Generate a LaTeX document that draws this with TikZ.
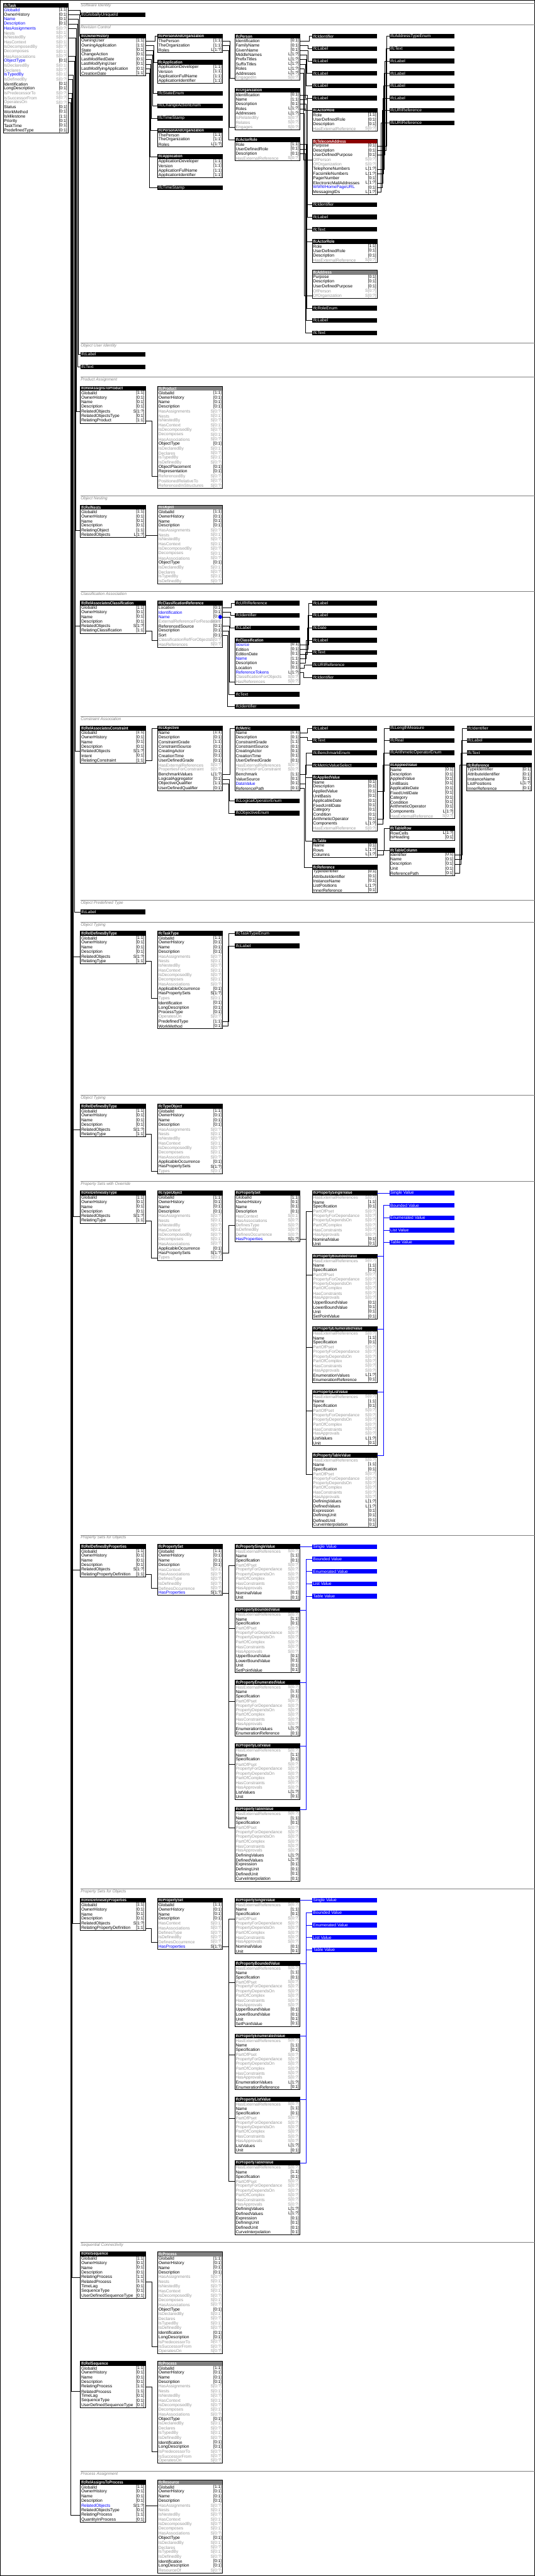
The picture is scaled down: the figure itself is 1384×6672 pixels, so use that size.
\documentclass[tikz,border=0pt]{standalone}
\usepackage{fontspec}
\setmainfont{Liberation Sans}
\newfontfamily\headfont[FakeStretch=0.85]{Liberation Sans}
\definecolor{labK}{RGB}{0,0,0}\definecolor{cardK}{RGB}{0,0,0}
\definecolor{labB}{RGB}{0,0,255}\definecolor{cardB}{RGB}{0,0,0}
\definecolor{labH}{RGB}{0,0,255}\definecolor{cardH}{RGB}{150,150,150}
\definecolor{labG}{RGB}{150,150,150}\definecolor{cardG}{RGB}{150,150,150}
\definecolor{abstr}{RGB}{128,128,128}
\definecolor{selred}{RGB}{139,0,0}
\definecolor{sepgray}{RGB}{128,128,128}
\tikzset{
  headbox/.style={anchor=north west,minimum width=168pt,minimum height=12pt,inner sep=0pt,outer sep=0pt,fill=black},
  headtxt/.style={anchor=west,inner xsep=2pt,inner ysep=0pt,text=white,font=\headfont\bfseries\fontsize{11}{12}\selectfont},
  bartxt/.style={headtxt,font=\fontsize{11}{12}\selectfont},
  rowbox/.style={anchor=north west,minimum width=168pt,minimum height=12pt,inner sep=0pt,outer sep=0pt},
  rowtxt/.style={anchor=west,inner xsep=2pt,inner ysep=0pt,font=\fontsize{11}{12}\selectfont},
  cardtxt/.style={rowtxt,anchor=east},
  box/.style={draw=black,line width=1pt},
  wire/.style={draw=black,line width=1pt},
  bwire/.style={draw=blue,line width=1pt},
  sepline/.style={draw=sepgray,line width=1pt},
  seplabel/.style={anchor=north west,inner sep=1pt,text=sepgray,font=\itshape\fontsize{10.5}{12}\selectfont}
}
\def\rootrows{GlobalId/[1:1]/K,OwnerHistory/[0:1]/K,Name/[0:1]/K,Description/[0:1]/K}
\def\objdefrows{HasAssignments/S[0:?]/G,Nests/S[0:1]/G,IsNestedBy/S[0:?]/G,HasContext/S[0:1]/G,IsDecomposedBy/S[0:?]/G,Decomposes/S[0:1]/G,HasAssociations/S[0:?]/G}
\def\objrows{ObjectType/[0:1]/K,IsDeclaredBy/S[0:1]/G,Declares/S[0:?]/G,IsTypedBy/S[0:1]/G,IsDefinedBy/S[0:?]/G}
\def\procrows{\rootrows,\objdefrows,\objrows,Identification/[0:1]/K,LongDescription/[0:1]/K,IsPredecessorTo/S[0:?]/G,IsSuccessorFrom/S[0:?]/G,OperatesOn/S[0:?]/G}
\def\typerows{\rootrows,\objdefrows,ApplicableOccurrence/[0:1]/K,HasPropertySets/S[1:?]/K,Types/S[0:1]/G}
\def\psetrows{\rootrows,HasContext/S[0:1]/G,HasAssociations/S[0:?]/G,DefinesType/S[0:?]/G,IsDefinedBy/S[0:?]/G,DefinesOccurrence/S[0:?]/G,HasProperties/S[1:?]/B}
\def\proprows{HasExternalReferences/S[0:?]/G,Name/[1:1]/K,Specification/[0:1]/K,PartOfPset/S[0:?]/G,PropertyForDependance/S[0:?]/G,PropertyDependsOn/S[0:?]/G,PartOfComplex/S[0:?]/G,HasConstraints/S[0:?]/G,HasApprovals/S[0:?]/G}
\def\seqrows{\rootrows,RelatingProcess/[1:1]/K,RelatedProcess/[1:1]/K,TimeLag/[0:1]/K,SequenceType/[0:1]/K,UserDefinedSequenceType/[0:1]/K}
\def\porows{ThePerson/[1:1]/K,TheOrganization/[1:1]/K,Roles/L[1:?]/K}
\def\approws{ApplicationDeveloper/[1:1]/K,Version/[1:1]/K,ApplicationFullName/[1:1]/K,ApplicationIdentifier/[1:1]/K}
\def\rolerows{Role/[1:1]/K,UserDefinedRole/[0:1]/K,Description/[0:1]/K,HasExternalReference/S[0:?]/G}
\def\conrows{Name/[1:1]/K,Description/[0:1]/K,ConstraintGrade/[1:1]/K,ConstraintSource/[0:1]/K,CreatingActor/[0:1]/K,CreationTime/[0:1]/K,UserDefinedGrade/[0:1]/K,HasExternalReferences/S[0:?]/G,PropertiesForConstraint/S[0:?]/G}
\def\avrows{Name/[0:1]/K,Description/[0:1]/K,AppliedValue/[0:1]/K,UnitBasis/[0:1]/K,ApplicableDate/[0:1]/K,FixedUntilDate/[0:1]/K,Category/[0:1]/K,Condition/[0:1]/K,ArithmeticOperator/[0:1]/K,Components/L[1:?]/K,HasExternalReference/S[0:?]/G}
\def\refrows{TypeIdentifier/[0:1]/K,AttributeIdentifier/[0:1]/K,InstanceName/[0:1]/K,ListPositions/L[1:?]/K,InnerReference/[0:1]/K}
% entity box: [header colour]{name}{top left}{title}{rows}
\newcommand{\entity}[5][black]{%
  \node[headbox,fill=#1] (#2) at #3 {};
  \node[headtxt] at (#2.west) {#4};
  \edef\rowlist{#5}%
  \foreach \lab/\card/\cl [count=\i] in \rowlist {%
    \path (#2.south west) ++(0,{12*(\i-1)}) node[rowbox] (#2-\i) {};
    \node[rowtxt,text=lab\cl] at (#2-\i.west) {\lab};
    \node[cardtxt,text=card\cl] at (#2-\i.east) {\card};
    \xdef\lastrow{\i}%
  }
  \draw[box] (#2.north west) rectangle (#2-\lastrow.south east);
}
\newcommand{\typebar}[4][black]{%
  \node[headbox,fill=#1] (#2) at #3 {};
  \node[bartxt] at (#2.west) {#4};
}
\newcommand{\link}[3]{\draw[wire] (#1.east) -- (#1.east -| #2,0) |- (#3.west);}
\newcommand{\grp}[3]{%
  \draw[sepline] (208,#2) -- (1384,#2);
  \node[seplabel] (#1) at (208,#2+1) {#3};
}
% property stack: prefix, x, y, pset row, via x
\newcommand{\propstack}[5]{%
  \entity{#1sv}{(#2,#3)}{IfcPropertySingleValue}{\proprows,NominalValue/[0:1]/K,Unit/[0:1]/K}
  \entity{#1bv}{(#2,#3+164)}{IfcPropertyBoundedValue}{\proprows,UpperBoundValue/[0:1]/K,LowerBoundValue/[0:1]/K,Unit/[0:1]/K,SetPointValue/[0:1]/K}
  \entity{#1ev}{(#2,#3+352)}{IfcPropertyEnumeratedValue}{\proprows,EnumerationValues/L[1:?]/K,EnumerationReference/[0:1]/K}
  \entity{#1lv}{(#2,#3+516)}{IfcPropertyListValue}{\proprows,ListValues/L[1:?]/K,Unit/[0:1]/K}
  \entity{#1tv}{(#2,#3+680)}{IfcPropertyTableValue}{\proprows,DefiningValues/L[1:?]/K,DefinedValues/L[1:?]/K,Expression/[0:1]/K,DefiningUnit/[0:1]/K,DefinedUnit/[0:1]/K,CurveInterpolation/[0:1]/K}
  \link{#4}{#5}{#1sv-4}\link{#4}{#5}{#1bv-4}\link{#4}{#5}{#1ev-4}\link{#4}{#5}{#1lv-4}\link{#4}{#5}{#1tv-4}
  \typebar[blue]{#1b1}{(#2+200,#3)}{Single Value}
  \typebar[blue]{#1b2}{(#2+200,#3+32)}{Bounded Value}
  \typebar[blue]{#1b3}{(#2+200,#3+64)}{Enumerated Value}
  \typebar[blue]{#1b4}{(#2+200,#3+96)}{List Value}
  \typebar[blue]{#1b5}{(#2+200,#3+128)}{Table Value}
  \draw[bwire] (#1sv.east) -- (#1b1.west);
  \draw[bwire] (#1tv.east) -| (#2+184,#3+38) -- (#1b2.west);
  \draw[bwire] (#1bv.east) -- (#2+184,#3+170);
  \draw[bwire] (#1ev.east) -- (#2+184,#3+358);
  \draw[bwire] (#1lv.east) -- (#2+184,#3+522);
  \draw[bwire] (#2+184,#3+70) -- (#1b3.west);
  \draw[bwire] (#2+184,#3+102) -- (#1b4.west);
  \draw[bwire] (#2+184,#3+134) -- (#1b5.west);
}
\begin{document}
\begin{tikzpicture}[x=1pt,y=-1pt]
\useasboundingbox (0,0) rectangle (1384,6672);
\draw[line width=1.5pt] (0.75,0.75) rectangle (1383.25,6670.5);
\entity{task}{(8,8)}{IfcTask}{GlobalId/[1:1]/B,OwnerHistory/[0:1]/K,Name/[0:1]/B,Description/[0:1]/B,HasAssignments/S[0:?]/H,Nests/S[0:1]/G,IsNestedBy/S[0:?]/G,HasContext/S[0:1]/G,IsDecomposedBy/S[0:?]/G,Decomposes/S[0:1]/G,HasAssociations/S[0:?]/G,ObjectType/[0:1]/B,IsDeclaredBy/S[0:1]/G,Declares/S[0:?]/G,IsTypedBy/S[0:1]/H,IsDefinedBy/S[0:?]/G,Identification/[0:1]/K,LongDescription/[0:1]/K,IsPredecessorTo/S[0:?]/G,IsSuccessorFrom/S[0:?]/G,OperatesOn/S[0:?]/G,Status/[0:1]/K,WorkMethod/[0:1]/K,IsMilestone/[1:1]/K,Priority/[0:1]/K,TaskTime/[0:1]/K,PredefinedType/[0:1]/K}

\grp{s1}{8}{Software Identity}
\typebar{gid}{(208,32)}{IfcGloballyUniqueId}
\link{task-1}{206.7}{gid}

\grp{s2}{64}{Revision Control}
\entity{oh}{(208,88)}{IfcOwnerHistory}{OwningUser/[1:1]/K,OwningApplication/[1:1]/K,State/[0:1]/K,ChangeAction/[0:1]/K,LastModifiedDate/[0:1]/K,LastModifyingUser/[0:1]/K,LastModifyingApplication/[0:1]/K,CreationDate/[1:1]/K}
\entity{pao1}{(408,88)}{IfcPersonAndOrganization}{\porows}
\entity{app1}{(408,156)}{IfcApplication}{\approws}
\typebar{state}{(408,236)}{IfcStateEnum}
\typebar{chg}{(408,268)}{IfcChangeActionEnum}
\typebar{ts1}{(408,300)}{IfcTimeStamp}
\entity{pao2}{(408,332)}{IfcPersonAndOrganization}{\porows}
\entity{app2}{(408,400)}{IfcApplication}{\approws}
\typebar{ts2}{(408,480)}{IfcTimeStamp}
\entity{pers}{(608,88)}{IfcPerson}{Identification/[0:1]/K,FamilyName/[0:1]/K,GivenName/[0:1]/K,MiddleNames/L[1:?]/K,PrefixTitles/L[1:?]/K,SuffixTitles/L[1:?]/K,Roles/L[1:?]/K,Addresses/L[1:?]/K,EngagedIn/S[0:?]/G}
\entity{org}{(608,228)}{IfcOrganization}{Identification/[0:1]/K,Name/[1:1]/K,Description/[0:1]/K,Roles/L[1:?]/K,Addresses/L[1:?]/K,IsRelatedBy/S[0:?]/G,Relates/S[0:?]/G,Engages/S[0:?]/G}
\entity{role1}{(608,356)}{IfcActorRole}{\rolerows}
\typebar{pid}{(808,88)}{IfcIdentifier}
\typebar{pl1}{(808,120)}{IfcLabel}
\typebar{pl2}{(808,152)}{IfcLabel}
\typebar{pl3}{(808,184)}{IfcLabel}
\typebar{pl4}{(808,216)}{IfcLabel}
\typebar{pl5}{(808,248)}{IfcLabel}
\entity{role2}{(808,280)}{IfcActorRole}{\rolerows}
\entity[selred]{tel}{(808,360)}{IfcTelecomAddress}{Purpose/[0:1]/K,Description/[0:1]/K,UserDefinedPurpose/[0:1]/K,OfPerson/S[0:?]/G,OfOrganization/S[0:?]/G,TelephoneNumbers/L[1:?]/K,FacsimileNumbers/L[1:?]/K,PagerNumber/[0:1]/K,ElectronicMailAddresses/L[1:?]/K,WWWHomePageURL/[0:1]/B,MessagingIDs/L[1:?]/K}
\typebar{oid}{(808,524)}{IfcIdentifier}
\typebar{olab}{(808,556)}{IfcLabel}
\typebar{otxt}{(808,588)}{IfcText}
\entity{role3}{(808,620)}{IfcActorRole}{\rolerows}
\entity[abstr]{addr}{(808,700)}{IfcAddress}{Purpose/[0:1]/K,Description/[0:1]/K,UserDefinedPurpose/[0:1]/K,OfPerson/S[0:?]/G,OfOrganization/S[0:?]/G}
\typebar{renum}{(808,792)}{IfcRoleEnum}
\typebar{rlab}{(808,824)}{IfcLabel}
\typebar{rtxt}{(808,856)}{IfcText}
\typebar{atype}{(1008,88)}{IfcAddressTypeEnum}
\typebar{ttxt}{(1008,120)}{IfcText}
\typebar{tl1}{(1008,152)}{IfcLabel}
\typebar{tl2}{(1008,184)}{IfcLabel}
\typebar{tl3}{(1008,216)}{IfcLabel}
\typebar{tl4}{(1008,248)}{IfcLabel}
\typebar{uri1}{(1008,280)}{IfcURIReference}
\typebar{uri2}{(1008,312)}{IfcURIReference}
\link{task-2}{205}{oh}
\link{oh-1}{401}{pao1}
\link{oh-2}{398}{app1}
\link{oh-3}{396}{state}
\link{oh-4}{394}{chg}
\link{oh-5}{392}{ts1}
\link{oh-6}{390}{pao2}
\link{oh-7}{388.5}{app2}
\link{oh-8}{386.8}{ts2}
\link{pao1-1}{594.6}{pers-9}
\link{pao1-2}{592.9}{org-8}
\link{pao1-3}{591}{role1}
\link{pers-1}{800}{pid}
\link{pers-2}{797.5}{pl1}
\link{pers-3}{796.4}{pl2}
\link{pers-4}{794.3}{pl3}
\link{pers-5}{792.1}{pl4}
\link{pers-6}{790.4}{pl5}
\link{pers-7}{788}{role2}
\link{pers-8}{786.4}{tel-4}
\link{org-1}{796}{oid}
\link{org-2}{794.6}{olab}
\link{org-3}{792.9}{otxt}
\link{org-4}{791.8}{role3}
\link{org-5}{788}{addr-5}
\link{role1-1}{793.9}{renum}
\link{role1-2}{792.1}{rlab}
\link{role1-3}{790.4}{rtxt}
\link{tel-1}{1000.4}{atype}
\link{tel-2}{998.5}{ttxt}
\link{tel-3}{996.3}{tl1}
\link{tel-6}{994.4}{tl2}
\link{tel-7}{992.5}{tl3}
\link{tel-9}{990.7}{tl4}
\link{tel-10}{988.6}{uri1}
\link{tel-11}{986.4}{uri2}

\grp{s3}{888}{Object User Identity}
\typebar{nlab}{(208,912)}{IfcLabel}
\typebar{dtxt}{(208,944)}{IfcText}
\link{task-3}{202.3}{nlab}
\link{task-4}{201}{dtxt}

\grp{s4}{976}{Product Assignment}
\entity{rap}{(208,1000)}{IfcRelAssignsToProduct}{\rootrows,RelatedObjects/S[1:?]/K,RelatedObjectsType/[0:1]/K,RelatingProduct/[1:1]/K}
\entity[abstr]{prod}{(408,1000)}{IfcProduct}{\rootrows,\objdefrows,\objrows,ObjectPlacement/[0:1]/K,Representation/[0:1]/K,ReferencedBy/S[0:?]/G,PositionedRelativeTo/S[0:?]/G,ReferencedInStructures/S[0:?]/G}
\link{rap-7}{393}{prod-19}
\link{task-5}{198.3}{rap-5}

\grp{s5}{1284}{Object Nesting}
\entity{nest}{(208,1308)}{IfcRelNests}{\rootrows,RelatingObject/[1:1]/K,RelatedObjects/L[1:?]/K}
\entity[abstr]{obj}{(408,1308)}{IfcObject}{\rootrows,\objdefrows,\objrows}
\draw[wire] (nest-6.east) -- (obj-6.west);
\link{task-7}{196}{nest-5}

\grp{s6}{1532}{Classification Association}
\entity{rac}{(208,1556)}{IfcRelAssociatesClassification}{\rootrows,RelatedObjects/S[1:?]/K,RelatingClassification/[1:1]/K}
\entity{cref}{(408,1556)}{IfcClassificationReference}{Location/[0:1]/K,Identification/[0:1]/B,Name/[0:1]/B,ExternalReferenceForResources/S[0:?]/G,ReferencedSource/[0:1]/K,Description/[0:1]/K,Sort/[0:1]/K,ClassificationRefForObjects/S[0:?]/G,HasReferences/S[0:?]/G}
\fill[blue] (570,1598) circle[radius=5pt];
\typebar{curi}{(608,1556)}{IfcURIReference}
\typebar{cid}{(608,1588)}{IfcIdentifier}
\typebar{clab}{(608,1620)}{IfcLabel}
\entity{cls}{(608,1652)}{IfcClassification}{Source/[0:1]/B,Edition/[0:1]/K,EditionDate/[0:1]/K,Name/[1:1]/B,Description/[0:1]/K,Location/[0:1]/K,ReferenceTokens/L[1:?]/B,ClassificationForObjects/S[0:?]/G,HasReferences/S[0:?]/G}
\typebar{ctxt}{(608,1792)}{IfcText}
\typebar{cid2}{(608,1824)}{IfcIdentifier}
\typebar{sl1}{(808,1556)}{IfcLabel}
\typebar{sl2}{(808,1588)}{IfcLabel}
\typebar{sdate}{(808,1620)}{IfcDate}
\typebar{sl3}{(808,1652)}{IfcLabel}
\typebar{stxt}{(808,1684)}{IfcText}
\typebar{suri}{(808,1716)}{IfcURIReference}
\typebar{sid}{(808,1748)}{IfcIdentifier}
\link{task-11}{194.3}{rac-5}
\link{rac-6}{393}{cref-8}
\link{cref-1}{598}{curi}
\link{cref-2}{596.4}{cid}
\link{cref-3}{594.6}{clab}
\link{cref-5}{592.9}{cls-9}
\link{cref-6}{591}{ctxt}
\link{cref-7}{588.6}{cid2}
\link{cls-1}{799.3}{sl1}
\link{cls-2}{797}{sl2}
\link{cls-3}{794.6}{sdate}
\link{cls-4}{792.9}{sl3}
\link{cls-5}{790.4}{stxt}
\link{cls-6}{788}{suri}
\link{cls-7}{786.4}{sid}

\grp{s7}{1856}{Constraint Association}
\entity{racn}{(208,1880)}{IfcRelAssociatesConstraint}{\rootrows,RelatedObjects/S[1:?]/K,Intent/[0:1]/K,RelatingConstraint/[1:1]/K}
\entity{objv}{(408,1880)}{IfcObjective}{\conrows,BenchmarkValues/L[1:?]/K,LogicalAggregator/[0:1]/K,ObjectiveQualifier/[1:1]/K,UserDefinedQualifier/[0:1]/K}
\entity{metric}{(608,1880)}{IfcMetric}{\conrows,Benchmark/[1:1]/K,ValueSource/[0:1]/K,DataValue/[0:1]/B,ReferencePath/[0:1]/K}
\typebar{lop}{(608,2068)}{IfcLogicalOperatorEnum}
\typebar{oenum}{(608,2100)}{IfcObjectiveEnum}
\typebar{mlab}{(808,1880)}{IfcLabel}
\typebar{mtxt}{(808,1912)}{IfcText}
\typebar{bench}{(808,1944)}{IfcBenchmarkEnum}
\typebar{mvs}{(808,1976)}{IfcMetricValueSelect}
\entity{av1}{(808,2008)}{IfcAppliedValue}{\avrows}
\entity{tab}{(808,2172)}{IfcTable}{Name/[0:1]/K,Rows/L[1:?]/K,Columns/L[1:?]/K}
\entity{ref1}{(808,2240)}{IfcReference}{\refrows}
\typebar{lmeas}{(1008,1880)}{IfcLengthMeasure}
\typebar{real}{(1008,1912)}{IfcReal}
\typebar{arith}{(1008,1944)}{IfcArithmeticOperatorEnum}
\entity{av2}{(1008,1976)}{IfcAppliedValue}{\avrows}
\entity{trow}{(1008,2140)}{IfcTableRow}{RowCells/L[1:?]/K,IsHeading/[0:1]/K}
\entity{tcol}{(1008,2196)}{IfcTableColumn}{Identifier/[0:1]/K,Name/[0:1]/K,Description/[0:1]/K,Unit/[0:1]/K,ReferencePath/[0:1]/K}
\typebar{cidf}{(1208,1880)}{IfcIdentifier}
\typebar{clab7}{(1208,1912)}{IfcLabel}
\typebar{ctxt7}{(1208,1944)}{IfcText}
\entity{ref2}{(1208,1976)}{IfcReference}{\refrows}
\link{task-11}{194.3}{racn-5}
\link{racn-7}{393}{objv}
\link{objv-10}{594.6}{metric}
\link{objv-11}{592.9}{lop}
\link{objv-12}{591}{oenum}
\link{metric-1}{796}{mlab}
\link{metric-2}{794.6}{mtxt}
\link{metric-10}{792}{bench}
\link{metric-12}{790}{mvs}
\link{metric-12}{790}{av1}
\link{metric-12}{790}{tab}
\link{metric-13}{787.5}{ref1}
\link{av1-3}{994.4}{lmeas}
\link{av1-3}{994.4}{real}
\link{av1-9}{992.5}{arith}
\link{av1-10}{990.3}{av2}
\link{tab-2}{994.4}{trow}
\link{tab-3}{992.5}{tcol}
\link{tcol-1}{1196.6}{cidf}
\link{tcol-2}{1194.8}{clab7}
\link{tcol-3}{1193}{ctxt7}
\link{tcol-5}{1190.3}{ref2}

\grp{s8}{2332}{Object Predefined Type}
\typebar{otype}{(208,2356)}{IfcLabel}
\link{task-12}{192.3}{otype}

\grp{s9}{2388}{Object Typing}
\entity{rdt0}{(208,2412)}{IfcRelDefinesByType}{\rootrows,RelatedObjects/S[1:?]/K,RelatingType/[1:1]/K}
\entity{ttype}{(408,2412)}{IfcTaskType}{\typerows,Identification/[0:1]/K,LongDescription/[0:1]/K,ProcessType/[0:1]/K,OperatesOn/S[0:?]/G,PredefinedType/[1:1]/K,WorkMethod/[0:1]/K}
\typebar{tenum}{(608,2412)}{IfcTaskTypeEnum}
\typebar{wlab}{(608,2444)}{IfcLabel}
\link{rdt0-6}{392}{ttype-14}
\link{ttype-19}{592}{tenum}
\link{ttype-20}{590}{wlab}
\link{task-15}{190}{rdt0-5}

\grp{s10}{2836}{Object Typing}
\entity{rdt1}{(208,2860)}{IfcRelDefinesByType}{\rootrows,RelatedObjects/S[1:?]/K,RelatingType/[1:1]/K}
\entity{typ1}{(408,2860)}{IfcTypeObject}{\typerows}
\link{rdt1-6}{392}{typ1-14}
\link{task-15}{190}{rdt1-5}

\grp{s11}{3060}{Property Sets with Override}
\entity{rdt2}{(208,3084)}{IfcRelDefinesByType}{\rootrows,RelatedObjects/S[1:?]/K,RelatingType/[1:1]/K}
\entity{typ2}{(408,3084)}{IfcTypeObject}{\typerows}
\entity{pset1}{(608,3084)}{IfcPropertySet}{\psetrows}
\link{rdt2-6}{392}{typ2-14}
\link{typ2-13}{592}{pset1-7}
\link{task-15}{190}{rdt2-5}
\propstack{pa}{808}{3084}{pset1-10}{792}

\grp{s12}{3976}{Property Sets for Objects}
\entity{rdp1}{(208,4000)}{IfcRelDefinesByProperties}{\rootrows,RelatedObjects/S[1:?]/K,RelatingPropertyDefinition/[1:1]/K}
\entity{pset2}{(408,4000)}{IfcPropertySet}{\psetrows}
\link{rdp1-6}{392}{pset2-9}
\link{task-16}{188.3}{rdp1-5}
\propstack{pb}{608}{4000}{pset2-10}{592}

\grp{s13}{4892}{Property Sets for Objects}
\entity{rdp2}{(208,4916)}{IfcRelDefinesByProperties}{\rootrows,RelatedObjects/S[1:?]/K,RelatingPropertyDefinition/[1:1]/K}
\entity{pset3}{(408,4916)}{IfcPropertySet}{\psetrows}
\link{rdp2-6}{392}{pset3-9}
\link{task-16}{188.3}{rdp2-5}
\propstack{pc}{608}{4916}{pset3-10}{592}

\grp{s14}{5808}{Sequential Connectivity}
\entity{seq1}{(208,5832)}{IfcRelSequence}{\seqrows}
\entity[abstr]{proc1}{(408,5832)}{IfcProcess}{\procrows}
\link{seq1-6}{393}{proc1-20}
\link{task-19}{185.7}{seq1-5}
\entity{seq2}{(208,6116)}{IfcRelSequence}{\seqrows}
\entity[abstr]{proc2}{(408,6116)}{IfcProcess}{\procrows}
\link{seq2-5}{392.8}{proc2-19}
\link{task-20}{184}{seq2-6}

\grp{s15}{6400}{Process Assignment}
\entity{rap2}{(208,6424)}{IfcRelAssignsToProcess}{\rootrows,RelatedObjects/S[1:?]/B,RelatedObjectsType/[0:1]/K,RelatingProcess/[1:1]/K,QuantityInProcess/[0:1]/K}
\entity[abstr]{res}{(408,6424)}{IfcResource}{\rootrows,\objdefrows,\objrows,Identification/[0:1]/K,LongDescription/[0:1]/K,ResourceOf/S[0:?]/G}
\draw[wire] (rap2-5.east) -- (res-5.west);
\link{task-21}{182.3}{rap2-7}
\end{tikzpicture}
\end{document}
